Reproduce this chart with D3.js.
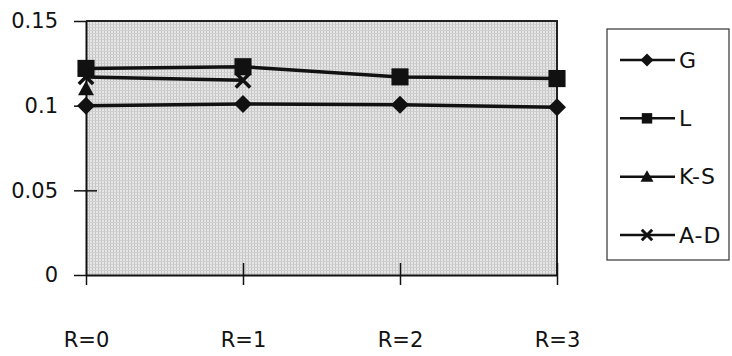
<!DOCTYPE html>
<html>
<head>
<meta charset="utf-8">
<script src="https://cdn.jsdelivr.net/npm/d3@7"></script>
<style>
  body { margin: 0; background: #fff; }
  text { font-family: "DejaVu Sans", Arial, sans-serif; fill: #111; }
</style>
</head>
<body>
<svg id="chart"></svg>
<script>
// categories and series values
var categories = ["R=0", "R=1", "R=2", "R=3"];
var gValues = [0.100, 0.101, 0.1005, 0.099];
var lValues = [0.122, 0.123, 0.117, 0.116];
var ksValues = [0.110, null, null, null];
var adValues = [0.117, 0.115, null, null];
var yTicks = [0, 0.05, 0.1, 0.15];
var seriesNames = ["G", "L", "K-S", "A-D"];
var seriesSymbols = ["diamond", "square", "triangle", "cross"];

var width = 732, height = 356;
var margin = {top: 21, right: 175, bottom: 81, left: 86};
var plotW = width - margin.left - margin.right,
    plotH = height - margin.top - margin.bottom;

var svg = d3.select("#chart")
    .attr("width", width)
    .attr("height", height);

// screened grey background
var defs = svg.append("defs");
var pat = defs.append("pattern")
    .attr("id", "screen")
    .attr("width", 3).attr("height", 3)
    .attr("patternUnits", "userSpaceOnUse");
pat.append("rect").attr("width", 3).attr("height", 3).attr("fill", "#e6e6e6");
pat.append("rect").attr("width", 1).attr("height", 3).attr("fill", "#c4c4c4");
pat.append("rect").attr("width", 3).attr("height", 1).attr("fill", "#cfcfcf");

var g = svg.append("g")
    .attr("transform", "translate(" + margin.left + "," + margin.top + ")");

var x = d3.scalePoint()
    .domain(categories)
    .range([0, plotW]);

var y = d3.scaleLinear()
    .domain([0, 0.15])
    .range([plotH, 0]);

g.append("rect")
    .attr("width", plotW)
    .attr("height", plotH)
    .attr("fill", "url(#screen)");

// plot frame (top and right)
g.append("path")
    .attr("d", "M0,0H" + plotW + "V" + plotH)
    .attr("fill", "none")
    .attr("stroke", "#222")
    .attr("stroke-width", 2);

// Y axis
var yAxis = g.append("g")
    .call(d3.axisLeft(y).tickValues(yTicks).tickSize(12).tickSizeOuter(0)
        .tickFormat(function(d) { return d === 0 ? "0" : String(+d.toFixed(2)); }));
yAxis.select(".domain").attr("stroke", "#111").attr("stroke-width", 2);
yAxis.selectAll(".tick line").attr("stroke", "#111").attr("stroke-width", 1.5)
    .attr("x1", function(d) { return (d === 0.15 || d === 0) ? 0 : 11; });
yAxis.selectAll(".tick text")
    .attr("x", -28)
    .style("font-size", "21px");

// X axis
var xAxis = g.append("g")
    .attr("transform", "translate(0," + plotH + ")")
    .call(d3.axisBottom(x).tickSize(10).tickSizeOuter(0));
xAxis.select(".domain").attr("stroke", "#111").attr("stroke-width", 2);
xAxis.selectAll(".tick line").attr("stroke", "#111").attr("stroke-width", 1.5)
    .attr("y1", function(d, i) { return i === 0 ? 0 : -12; });
xAxis.selectAll(".tick text")
    .attr("y", 65)
    .attr("dy", "0.35em")
    .style("font-size", "21px");

var allSeries = [gValues, lValues, ksValues, adValues];

function symbolPath(kind, r) {
    if (kind === "diamond") return "M0," + (-r) + "L" + r + ",0L0," + r + "L" + (-r) + ",0Z";
    if (kind === "square") return d3.symbol(d3.symbolSquare, (2 * r * 0.95) * (2 * r * 0.95))();
    if (kind === "triangle") return "M0," + (-r) + "L" + r + "," + (r * 0.8) + "L" + (-r) + "," + (r * 0.8) + "Z";
    return "M" + (-r * 0.8) + "," + (-r * 0.8) + "L" + (r * 0.8) + "," + (r * 0.8) +
        "M" + (r * 0.8) + "," + (-r * 0.8) + "L" + (-r * 0.8) + "," + (r * 0.8);
}

var line = d3.line()
    .defined(function(d) { return d != null; })
    .x(function(d, i) { return x(categories[i]); })
    .y(function(d) { return y(d); });

allSeries.forEach(function(vals, s) {
    g.append("path")
        .datum(vals)
        .attr("d", line)
        .attr("fill", "none")
        .attr("stroke", "#111")
        .attr("stroke-width", 3.5);
    var kind = seriesSymbols[s];
    g.selectAll(".m" + s)
        .data(vals.map(function(v, i) { return {v: v, i: i}; })
            .filter(function(d) { return d.v != null; }))
        .join("path")
        .attr("transform", function(d) { return "translate(" + x(categories[d.i]) + "," + y(d.v) + ")"; })
        .attr("d", symbolPath(kind, kind === "triangle" ? 8 : 9))
        .attr("fill", kind === "cross" ? "none" : "#111")
        .attr("stroke", kind === "cross" ? "#111" : "none")
        .attr("stroke-width", 3.5);
});

// Legend
var legend = svg.append("g").attr("transform", "translate(607,29)");
legend.append("rect")
    .attr("width", 122)
    .attr("height", 231)
    .attr("fill", "#fff")
    .attr("stroke", "#333")
    .attr("stroke-width", 1.2);

var legY = d3.scalePoint().domain(seriesNames).range([31, 206]);
seriesNames.forEach(function(name, s) {
    var kind = seriesSymbols[s];
    var row = legend.append("g").attr("transform", "translate(0," + legY(name) + ")");
    row.append("line")
        .attr("x1", 13).attr("x2", 68)
        .attr("stroke", "#111").attr("stroke-width", 2.5);
    row.append("path")
        .attr("transform", "translate(40,0)")
        .attr("d", symbolPath(kind, kind === "square" ? 5.5 : 6.5))
        .attr("fill", kind === "cross" ? "none" : "#111")
        .attr("stroke", kind === "cross" ? "#111" : "none")
        .attr("stroke-width", 3);
    row.append("text")
        .attr("x", 72)
        .attr("dy", "0.35em")
        .style("font-size", "22px")
        .style("letter-spacing", "1px")
        .text(name);
});
</script>
</body>
</html>
